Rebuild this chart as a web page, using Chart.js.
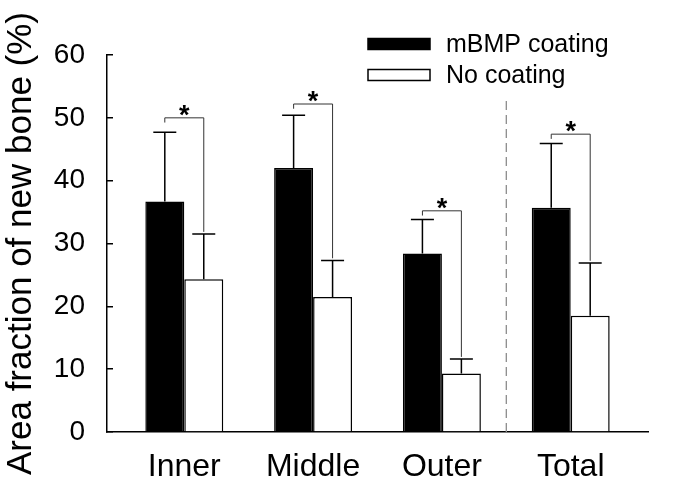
<!DOCTYPE html>
<html>
<head>
<meta charset="utf-8">
<script src="https://cdn.jsdelivr.net/npm/chart.js@4"></script>
<style>
html, body { margin: 0; padding: 0; background: #fff; }
</style>
</head>
<body>
<canvas id="graph" width="691" height="489"></canvas>
<script>
const categories = ['Inner', 'Middle', 'Outer', 'Total'];
const coatedValues = [36.7, 42.0, 28.4, 35.7];
const coatedErrors = [11.0, 8.4, 5.4, 10.2];
const uncoatedValues = [24.3, 21.5, 9.3, 18.5];
const uncoatedErrors = [7.2, 5.8, 2.3, 8.4];
const bracketHeights = [50.0, 52.2, 35.2, 47.4];
const yTicks = [0, 10, 20, 30, 40, 50, 60];
const dividerAt = 2.5;
const dividerTop = 53.2;

const FONT = "'Liberation Sans', Arial, sans-serif";
Chart.defaults.font.family = FONT;
Chart.defaults.color = '#000';

const canvas = document.getElementById('graph');

function toPoints(values) {
    return values.map((v, i) => ({x: i, y: v}));
}

// error bars, significance brackets and the dashed divider
const overlay = {
    id: 'overlay',
    afterDatasetsDraw(chart) {
        const ctx = chart.ctx;
        const xs = chart.scales.x;
        const ys = chart.scales.y;
        ctx.save();

        ctx.strokeStyle = '#8c8c8c';
        ctx.lineWidth = 1.3;
        ctx.setLineDash([9, 5]);
        ctx.beginPath();
        ctx.moveTo(xs.getPixelForValue(dividerAt), ys.getPixelForValue(0));
        ctx.lineTo(xs.getPixelForValue(dividerAt), ys.getPixelForValue(dividerTop));
        ctx.stroke();
        ctx.setLineDash([]);

        chart.data.datasets.forEach((ds, d) => {
            chart.getDatasetMeta(d).data.forEach((bar, i) => {
                const top = ys.getPixelForValue(ds.data[i].y + ds.errors[i]);
                ctx.strokeStyle = '#000';
                ctx.lineWidth = 1.5;
                ctx.beginPath();
                ctx.moveTo(bar.x, bar.y);
                ctx.lineTo(bar.x, top);
                ctx.moveTo(bar.x - 11.5, top);
                ctx.lineTo(bar.x + 11.5, top);
                ctx.stroke();
            });
        });

        const a = chart.getDatasetMeta(0).data;
        const b = chart.getDatasetMeta(1).data;
        bracketHeights.forEach((h, i) => {
            const top = ys.getPixelForValue(h);
            const leftEnd = ys.getPixelForValue(h - 0.75);
            const rightEnd = ys.getPixelForValue(uncoatedValues[i] + uncoatedErrors[i] + 0.35);
            ctx.strokeStyle = '#333';
            ctx.lineWidth = 1;
            ctx.beginPath();
            ctx.moveTo(a[i].x, leftEnd);
            ctx.lineTo(a[i].x, top);
            ctx.lineTo(b[i].x, top);
            ctx.lineTo(b[i].x, rightEnd);
            ctx.stroke();

            ctx.fillStyle = '#000';
            ctx.font = 'bold 27px ' + FONT;
            ctx.textAlign = 'center';
            ctx.textBaseline = 'alphabetic';
            ctx.fillText('*', xs.getPixelForValue(i), top + 6);
        });
        ctx.restore();
    },
    afterDraw(chart) {
        // legend inside the plot, top right
        const ctx = chart.ctx;
        const area = chart.chartArea;
        const left = area.left + 261;
        ctx.save();
        chart.data.datasets.forEach((ds, d) => {
            const cy = area.top - 11 + d * 31;
            ctx.fillStyle = ds.backgroundColor;
            ctx.fillRect(left, cy - 5.5, 62, 11);
            ctx.strokeStyle = ds.borderColor;
            ctx.lineWidth = 1.5;
            ctx.strokeRect(left, cy - 5.5, 62, 11);
            ctx.fillStyle = '#000';
            ctx.font = '25px ' + FONT;
            ctx.textAlign = 'left';
            ctx.textBaseline = 'middle';
            ctx.fillText(ds.label, left + 78, cy + 1);
        });
        ctx.restore();
    }
};

const chart = new Chart(canvas, {
    type: 'bar',
    data: {
        datasets: [
            {
                label: 'mBMP coating',
                data: toPoints(coatedValues),
                errors: coatedErrors,
                backgroundColor: '#000',
                borderColor: '#000',
                borderWidth: 1.5,
                categoryPercentage: 0.605,
                barPercentage: 1
            },
            {
                label: 'No coating',
                data: toPoints(uncoatedValues),
                errors: uncoatedErrors,
                backgroundColor: '#fff',
                borderColor: '#000',
                borderWidth: 1.5,
                categoryPercentage: 0.605,
                barPercentage: 1
            }
        ]
    },
    options: {
        responsive: false,
        animation: false,
        devicePixelRatio: 1,
        layout: {padding: {left: 0, top: 55, right: 43, bottom: 0}},
        plugins: {
            legend: {display: false},
            tooltip: {enabled: false}
        },
        scales: {
            x: {
                type: 'linear',
                min: -0.6,
                max: 3.6,
                offset: false,
                z: 1,
                afterBuildTicks: s => { s.ticks = categories.map((c, i) => ({value: i})); },
                afterFit: s => { s.height = 57; },
                border: {color: '#000', width: 1.5},
                grid: {display: false, drawTicks: false, offset: false},
                ticks: {
                    font: {size: 32},
                    padding: 16,
                    autoSkip: false,
                    maxRotation: 0,
                    callback: v => categories[v]
                }
            },
            y: {
                min: 0,
                max: 60,
                afterBuildTicks: s => { s.ticks = yTicks.map(v => ({value: v})); },
                afterFit: s => { s.width = 107; },
                border: {color: '#000', width: 1.5},
                grid: {drawOnChartArea: false, drawTicks: true, tickLength: -6, color: '#000', lineWidth: 1.5},
                ticks: {font: {size: 28}, padding: 28},
                title: {
                    display: true,
                    text: 'Area fraction of new bone (%)',
                    font: {size: 35},
                    padding: {top: 0, bottom: 0}
                }
            }
        }
    },
    plugins: [overlay]
});
</script>
</body>
</html>
